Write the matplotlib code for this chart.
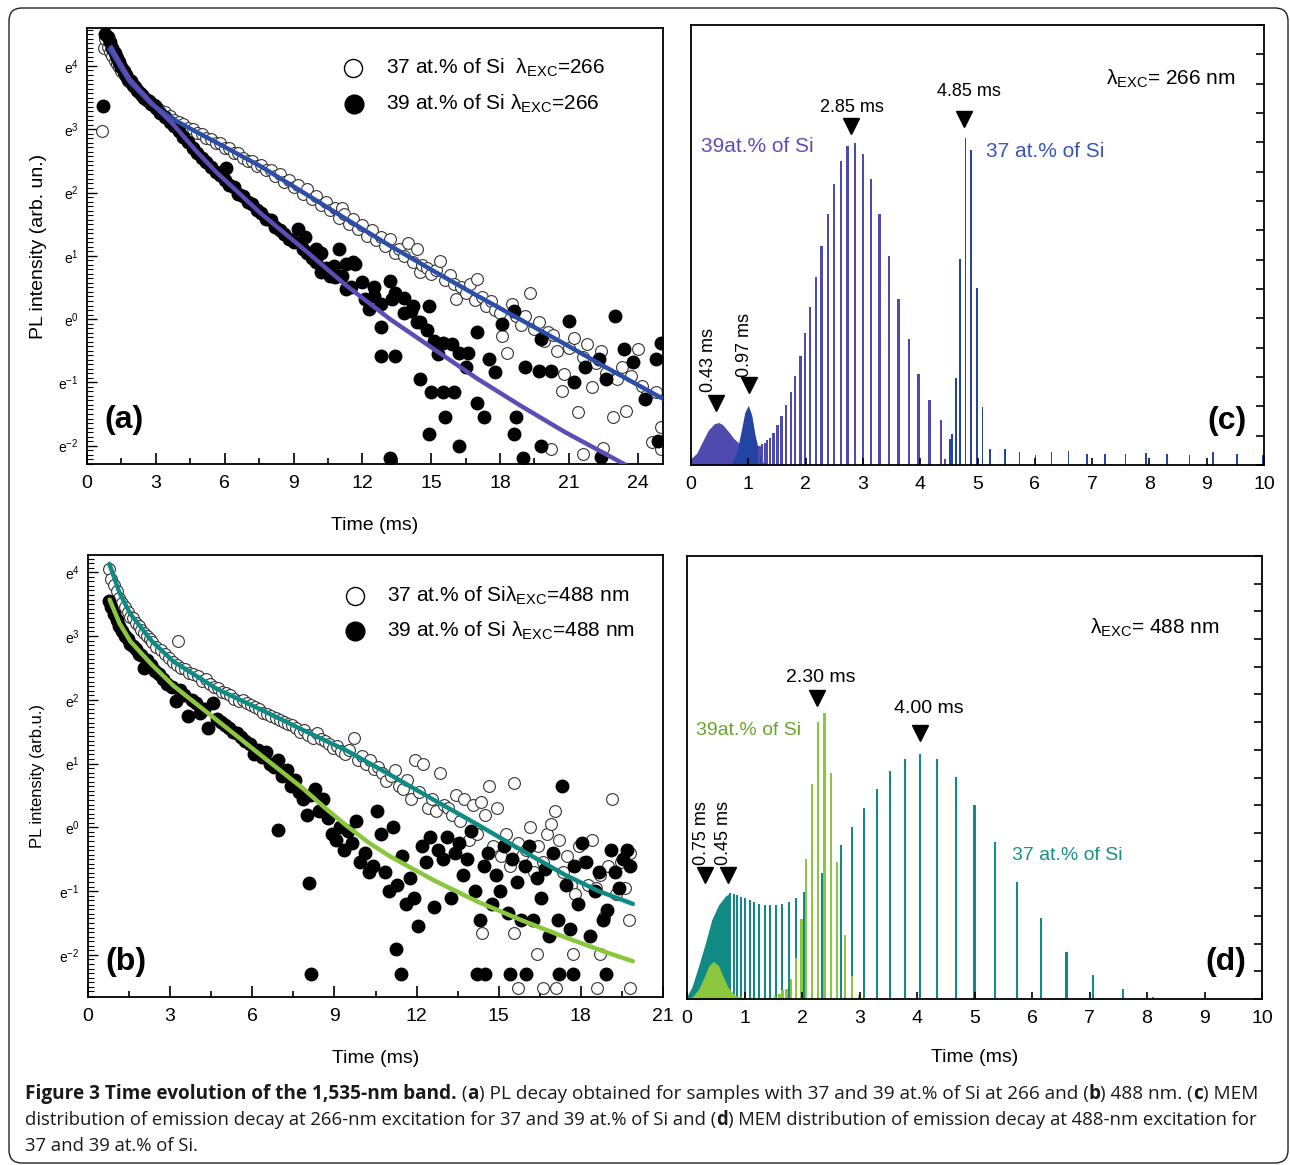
import numpy as np
import matplotlib
matplotlib.use("Agg")
import matplotlib.pyplot as plt
from matplotlib.ticker import MultipleLocator, FixedLocator, NullFormatter
from matplotlib.patches import FancyBboxPatch

plt.rcParams['font.family'] = ['Liberation Sans', 'DejaVu Sans']
plt.rcParams['mathtext.fontset'] = 'custom'
plt.rcParams['mathtext.rm'] = 'Liberation Sans'
plt.rcParams['mathtext.it'] = 'Liberation Sans:italic'

W, H = 1290, 1165

# ---------------- panel (a): PL decay, 266 nm (t in ms, ln of intensity) ----------
a37_t = [0.66, 0.72, 0.8, 0.9, 1.0, 1.1, 1.2, 1.3, 1.4, 1.5, 1.6, 1.7, 1.8, 1.9, 2.0, 2.2, 2.4,
         2.6, 2.8, 3.0, 3.2, 3.4, 3.6, 3.8, 4.0, 4.2, 4.4, 4.6, 4.8, 5.0, 5.2, 5.4, 5.6, 5.8, 6.0,
         6.2, 6.4, 6.6, 6.8, 7.0, 7.2, 7.4, 7.6, 7.8, 8.0, 8.2, 8.4, 8.6, 8.8, 9.0, 9.2, 9.4, 9.6,
         9.8, 10.0, 10.2, 10.4, 10.6, 10.8, 11.0, 11.1, 11.2, 11.4, 11.6, 11.8, 12.0, 12.2, 12.4,
         12.6, 12.8, 13.0, 13.2, 13.4, 13.6, 13.8, 14.0, 14.2, 14.4, 14.5, 14.6, 14.8, 15.0, 15.2,
         15.4, 15.6, 15.8, 16.0, 16.1, 16.3, 16.5, 16.7, 16.9, 17.0, 17.2, 17.4, 17.6, 17.8, 18.0,
         18.1, 18.3, 18.5, 18.7, 18.9, 19.1, 19.3, 19.5, 19.7, 19.9, 20.1, 20.3, 20.5, 20.7, 20.8,
         21.0, 21.2, 21.4, 21.6, 21.8, 22.0, 22.2, 22.4, 22.6, 22.9, 23.1, 23.3, 23.5, 23.7, 24.0,
         24.2, 24.4, 24.6, 24.8, 25.0, 20.2, 21.6, 22.5, 25.0]
a37_ln = [2.97, 4.29, 4.42, 4.3, 4.22, 4.15, 4.08, 4.03, 3.98, 3.92, 3.87, 3.82, 3.77, 3.73, 3.69,
          3.6, 3.53, 3.47, 3.41, 3.36, 3.3, 3.27, 3.21, 3.15, 3.12, 3.08, 3.02, 3.0, 2.94, 2.92,
          2.86, 2.85, 2.79, 2.78, 2.7, 2.7, 2.62, 2.62, 2.55, 2.5, 2.5, 2.42, 2.43, 2.35, 2.35,
          2.26, 2.3, 2.17, 2.2, 2.08, 2.12, 1.98, 2.05, 1.9, 1.95, 1.8, 1.85, 1.72, 1.76, 1.6,
          1.76, 1.66, 1.5, 1.58, 1.42, 1.48, 1.32, 1.4, 1.25, 1.3, 1.15, 1.26, 1.05, 1.1, 1.0,
          1.21, 0.9, 1.1, 0.74, 0.85, 0.8, 0.72, 0.78, 0.92, 0.62, 0.7, 0.55, 0.32, 0.5, 0.42,
          0.55, 0.3, 0.63, 0.35, 0.2, 0.28, 0.15, 0.1, -0.26, -0.53, 0.24, 0.05, -0.1, 0.05, 0.42,
          -0.15, -0.05, -0.35, -0.2, -0.25, -0.5, -1.13, -0.87, -0.45, -0.3, -1.47, -0.6, -0.4,
          -1.08, -0.7, -0.5, -0.85, -1.55, -0.95, -0.75, -1.45, -0.9, -0.47, -1.05, -1.2, -1.95,
          -1.15, -1.71, -2.05, -2.13, -2.03, -2.05]

a39_t = [0.68, 0.78, 0.9, 1.0, 1.1, 1.2, 1.3, 1.4, 1.5, 1.6, 1.7, 1.8, 1.9, 2.0, 2.1, 2.2, 2.3, 2.4,
         2.5, 2.6, 2.7, 2.8, 2.9, 3.0, 3.2, 3.4, 3.6, 3.8, 4.0, 4.2, 4.4, 4.6, 4.8, 5.0, 5.2, 5.4,
         5.6, 5.8, 6.0, 6.06, 6.2, 6.4, 6.6, 6.8, 7.0, 7.2, 7.4, 7.6, 7.8, 8.0, 8.2, 8.4, 8.6,
         8.8, 9.0, 9.2, 9.4, 9.5, 9.6, 9.8, 10.0, 10.0, 10.2, 10.2, 10.4, 10.6, 10.75, 10.8, 11.0,
         11.1, 11.3, 11.3, 11.5, 11.6, 11.7, 12.0, 12.1, 12.3, 12.5, 12.5, 12.8, 12.8, 12.8, 13.2,
         13.3, 13.4, 13.4, 13.8, 13.8, 14.1, 14.2, 14.4, 14.5, 14.5, 14.8, 14.9, 15.0, 15.1, 15.3,
         15.5, 15.5, 15.6, 15.9, 16.0, 16.2, 16.5, 16.6, 17.0, 17.0, 17.3, 17.5, 17.8, 18.1, 18.6,
         18.6, 18.7, 19.1, 19.7, 19.8, 19.8, 20.2, 21.0, 21.2, 21.7, 22.3, 22.6, 23.0, 23.4, 23.8,
         24.3, 24.8, 25.0, 24.9, 16.2, 14.9, 13.2, 19.0, 22.4]
a39_ln = [3.36, 4.5, 4.45, 4.38, 4.28, 4.2, 4.12, 4.06, 3.98, 3.92, 3.86, 3.8, 3.76, 3.7, 3.66,
          3.62, 3.58, 3.54, 3.5, 3.47, 3.44, 3.4, 3.38, 3.34, 3.26, 3.2, 3.12, 3.05, 2.97, 2.88,
          2.8, 2.7, 2.63, 2.55, 2.48, 2.4, 2.32, 2.28, 2.2, 2.39, 2.12, 2.08, 1.98, 1.95, 1.85,
          1.82, 1.72, 1.68, 1.58, 1.56, 1.46, 1.4, 1.35, 1.27, 1.22, 1.42, 1.1, 1.29, 1.05, 0.97,
          0.9, 1.1, 1.05, 0.74, 0.8, 0.68, 0.84, 0.66, 1.1, 0.68, 0.87, 0.47, 0.5, 0.9, 0.87, 0.58,
          0.32, 0.16, 0.5, 0.37, -0.13, -0.58, 0.24, 0.6, 0.32, 0.42, -0.58, 0.1, 0.34, 0.13, 0.21,
          -0.05, -0.95, -0.05, -0.18, 0.21, -1.16, -0.34, -0.55, -0.37, -1.16, -1.55, -0.39, -1.16,
          -0.53, -0.76, -0.53, -0.21, -1.32, -1.55, -0.63, -0.84, -0.08, 0.13, -1.82, -1.55, -0.76,
          -0.82, -0.32, -2.0, -0.82, -0.03, -1.0, -0.76, -0.63, -0.95, 0.05, -0.47, -0.68, -1.26,
          -0.63, -0.37, -1.92, -2.0, -1.82, -2.2, -2.2, -2.18]

# fitted decay curves
fit_a37_t = [1.0, 1.4, 1.86, 2.8, 3.75, 4.7, 5.64, 7.54, 9.43, 11.3, 13.2, 15.1, 17.0, 18.9,
             20.8, 22.7, 25.1]
fit_a37_ln = [4.26, 4.02, 3.75, 3.4, 3.16, 2.97, 2.79, 2.42, 2.0, 1.58, 1.16, 0.76, 0.37, -0.01,
              -0.39, -0.78, -1.26]
fit_a39_t = [1.06, 1.4, 1.86, 2.8, 3.75, 4.7, 5.64, 6.6, 7.54, 9.43, 11.3, 13.2, 15.1, 17.0,
             18.9, 20.8, 23.4]
fit_a39_ln = [4.29, 4.07, 3.79, 3.42, 3.08, 2.68, 2.32, 2.0, 1.68, 1.11, 0.53, 0.0, -0.47, -0.94,
              -1.37, -1.78, -2.29]

# ---------------- panel (b): PL decay, 488 nm -------------------------------------
b37_t = [0.75, 0.85, 0.95, 1.05, 1.15, 1.25, 1.35, 1.45, 1.55, 1.65, 1.75, 1.85, 1.95, 2.05, 2.15,
         2.25, 2.35, 2.5, 2.65, 2.8, 2.95, 3.1, 3.25, 3.4, 3.3, 3.55, 3.7, 3.85, 4.0, 4.15, 4.3,
         4.45, 4.6, 4.75, 4.9, 5.05, 5.2, 5.35, 5.5, 5.65, 5.8, 5.95, 6.1, 6.25, 6.4, 6.55, 6.7,
         6.85, 7.0, 7.15, 7.3, 7.45, 7.6, 7.75, 7.9, 8.05, 8.2, 8.35, 8.5, 8.65, 8.8, 8.95, 9.1,
         9.25, 9.4, 9.55, 9.7, 9.85, 10.0, 10.15, 10.3, 10.45, 10.6, 10.75, 10.9, 11.05, 11.2,
         11.35, 11.5, 11.65, 11.8, 11.95, 12.1, 12.25, 12.4, 12.55, 12.7, 12.85, 13.0, 13.15, 13.3,
         13.45, 13.6, 13.75, 13.9, 14.05, 14.2, 14.35, 14.5, 14.65, 14.8, 14.95, 15.1, 15.25, 15.4,
         15.55, 15.7, 15.85, 16.0, 16.15, 16.3, 16.45, 16.6, 16.75, 16.9, 17.05, 17.2, 17.35, 17.5,
         17.65, 17.8, 17.95, 18.1, 18.25, 18.4, 18.55, 18.7, 18.85, 19.0, 19.15, 19.3, 19.45, 19.6,
         19.75, 19.8, 14.4, 15.56, 16.4, 17.7, 18.7, 15.7, 16.6, 17.1, 18.6, 19.8]
b37_ln = [4.05, 3.9, 3.8, 3.7, 3.6, 3.52, 3.45, 3.38, 3.3, 3.28, 3.2, 3.15, 3.1, 3.05, 3.0, 2.95,
          2.9, 2.82, 2.78, 2.72, 2.65, 2.6, 2.55, 2.5, 2.92, 2.48, 2.42, 2.4, 2.38, 2.3, 2.32, 2.25,
          2.2, 2.18, 2.12, 2.1, 2.08, 2.02, 1.98, 2.0, 1.95, 1.92, 1.88, 1.85, 1.8, 1.78, 1.75, 1.72,
          1.68, 1.65, 1.62, 1.6, 1.55, 1.5, 1.52, 1.45, 1.4, 1.48, 1.38, 1.35, 1.3, 1.25, 1.28, 1.2,
          1.15, 1.22, 1.4, 1.05, 1.12, 1.0, 1.05, 0.92, 0.95, 0.85, 0.72, 0.8, 0.9, 0.65, 0.6, 0.75,
          0.45, 1.05, 0.55, 1.0, 0.3, 0.45, 0.25, 0.85, 0.35, 0.3, 0.2, 0.5, 0.1, 0.45, -0.2, 0.35,
          -0.1, 0.4, 0.2, 0.65, -0.3, 0.3, -0.45, -0.1, -0.6, 0.7, -0.25, -0.45, -0.35, 0.0, -0.7,
          -0.3, -0.55, -0.1, 0.05, 0.25, -0.2, -0.7, -0.45, -0.9, -1.05, -0.3, -0.55, -0.9, -0.2,
          -0.95, -0.75, -1.4, -0.6, 0.45, -1.05, -0.55, -0.95, -1.45, -0.4, -1.66, -1.66, -1.98,
          -1.98, -1.98, -2.52, -2.52, -2.52, -2.52, -2.52]

b39_t = [0.75, 0.85, 0.95, 1.05, 1.15, 1.25, 1.35, 1.45, 1.55, 1.65, 1.75, 1.85, 1.95, 2.05, 2.15,
         2.3, 2.45, 2.6, 2.75, 2.9, 3.05, 3.2, 3.35, 3.5, 3.65, 3.8, 3.95, 4.1, 4.25, 4.4, 4.55,
         4.7, 4.85, 5.0, 5.15, 5.3, 5.45, 5.6, 5.75, 5.9, 6.05, 6.2, 6.35, 6.5, 6.65, 6.8, 6.95,
         7.1, 7.25, 7.4, 7.55, 7.7, 7.85, 8.0, 8.15, 8.3, 8.45, 8.6, 8.75, 8.9, 9.05, 9.2, 9.35,
         9.5, 9.65, 9.8, 9.95, 10.1, 10.25, 10.4, 10.55, 10.7, 10.85, 11.0, 11.15, 11.3, 11.45,
         11.6, 11.75, 11.9, 12.05, 12.2, 12.35, 12.5, 12.65, 12.8, 12.95, 13.1, 13.25, 13.4, 13.55,
         13.7, 13.85, 14.0, 14.15, 14.3, 14.45, 14.6, 14.75, 14.9, 15.05, 15.2, 15.35, 15.5, 15.65,
         15.8, 15.95, 16.1, 16.25, 16.4, 16.55, 16.7, 16.85, 17.0, 17.15, 17.3, 17.45, 17.6, 17.75,
         17.9, 18.05, 18.2, 18.35, 18.5, 18.65, 18.8, 18.95, 19.1, 19.25, 19.4, 19.55, 19.7, 19.8,
         6.93, 8.16, 11.24, 11.44, 14.2, 14.5, 15.4, 16.0, 17.2, 17.7, 18.9, 8.07]
b39_ln = [3.55, 3.45, 3.35, 3.25, 3.15, 3.08, 3.0, 2.95, 2.88, 2.85, 2.8, 2.72, 2.7, 2.5, 2.62,
          2.55, 2.45, 2.4, 2.32, 2.25, 2.2, 1.98, 2.15, 2.08, 1.75, 2.0, 1.95, 1.8, 1.85, 1.55,
          1.95, 1.7, 1.65, 1.6, 1.55, 1.5, 1.48, 1.42, 1.35, 1.3, 1.15, 1.22, 1.1, 1.18, 1.0, 0.95,
          1.05, 0.8, 0.9, 0.65, 0.75, 0.55, 0.45, 0.2, 0.5, 0.6, 0.25, 0.45, 0.15, -0.1, -0.2, 0.0,
          -0.35, -0.05, -0.25, 0.1, -0.55, -0.4, -0.7, -0.6, 0.25, -0.1, -0.7, -1.0, 0.0, -0.9,
          -0.45, -1.2, -0.8, -1.1, -1.55, -0.3, -0.55, -0.15, -1.25, -0.35, -0.5, -0.15, -1.1, -0.4,
          -0.25, -0.75, -0.5, -0.05, -1.0, -1.45, -0.6, -0.4, -1.2, -0.75, -1.0, -0.3, -1.35, -0.5,
          -0.85, -1.45, -0.6, -0.3, -1.45, -0.8, -1.1, -0.65, -1.7, -0.4, -1.45, 0.65, -0.9, -1.6,
          -0.6, -1.2, -0.25, -0.55, -1.7, -1.0, -0.7, -1.45, -1.3, -0.35, -0.7, -0.95, -0.5, -0.35,
          -0.6, -0.04, -2.3, -1.9, -2.3, -2.3, -2.3, -2.3, -2.3, -2.3, -2.3, -2.3, -0.87]

fit_b37_t = [0.78, 1.15, 1.54, 2.33, 3.12, 4.71, 6.29, 7.88, 9.46, 11.05, 12.63, 14.2, 15.8, 17.4,
             18.65, 19.9]
fit_b37_ln = [4.13, 3.68, 3.35, 2.92, 2.6, 2.17, 1.85, 1.52, 1.2, 0.82, 0.43, 0.05, -0.35, -0.74,
              -1.0, -1.2]
fit_b39_t = [0.79, 1.15, 1.54, 2.33, 3.12, 4.71, 6.29, 7.88, 8.67, 9.46, 10.25, 11.05, 12.63,
             14.2, 15.8, 17.4, 19.0, 19.9]
fit_b39_ln = [3.57, 3.2, 2.92, 2.55, 2.22, 1.68, 1.14, 0.6, 0.3, 0.02, -0.24, -0.46, -0.83,
              -1.16, -1.45, -1.72, -1.97, -2.1]

# ---------------- panel (c): MEM distribution, 266 nm -----------------------------
c39_hump_x = [0.0, 0.1, 0.2, 0.3, 0.4, 0.48, 0.55, 0.65, 0.75, 0.85, 0.95, 1.05, 1.15, 1.25]
c39_hump_y = [0.22, 0.4, 0.8, 1.18, 1.4, 1.45, 1.38, 1.15, 0.9, 0.72, 0.58, 0.55, 0.6, 0.7]
c39_bar_x = [1.19, 1.24, 1.29, 1.33, 1.38, 1.44, 1.51, 1.58, 1.66, 1.74, 1.82, 1.91, 1.99, 2.08,
             2.18, 2.28, 2.39, 2.50, 2.62, 2.73, 2.86, 3.00, 3.14, 3.29, 3.45, 3.62, 3.80, 3.97,
             4.16, 4.36, 4.43]
c39_bar_h = [0.65, 0.70, 0.76, 0.85, 0.93, 1.10, 1.35, 1.67, 2.03, 2.48, 3.05, 3.70, 4.49, 5.37,
             6.40, 7.48, 8.57, 9.57, 10.36, 10.86, 10.98, 10.59, 9.75, 8.56, 7.12, 5.66, 4.30, 3.11,
             2.20, 1.53, 0.19]
c37_peak_x = [0.7, 0.8, 0.88, 0.94, 1.0, 1.06, 1.12, 1.2, 1.28]
c37_peak_y = [0.0, 0.45, 1.2, 1.8, 2.03, 1.7, 1.0, 0.35, 0.0]
c37_bar_x = [4.52, 4.56, 4.62, 4.69, 4.79, 4.89, 4.99, 5.09, 5.22, 5.48, 5.73, 6.01, 6.29, 6.59,
             6.91, 7.23, 7.58, 7.94, 8.31, 8.70, 9.11, 9.53, 9.98]
c37_bar_h = [0.87, 1.04, 2.97, 7.03, 11.15, 10.75, 6.04, 1.97, 0.53, 0.53, 0.44, 0.34, 0.44, 0.48,
             0.36, 0.36, 0.39, 0.40, 0.39, 0.33, 0.44, 0.36, 0.33]

# ---------------- panel (d): MEM distribution, 488 nm -----------------------------
d37_hump_x = [0.0, 0.09, 0.2, 0.32, 0.43, 0.55, 0.67, 0.74]
d37_hump_y = [0.1, 0.46, 1.18, 2.02, 2.86, 3.40, 3.72, 3.82]
d37_bar_x = [0.75, 0.81, 0.87, 0.94, 1.01, 1.09, 1.17, 1.26, 1.36, 1.45, 1.55, 1.66, 1.77, 1.90,
             2.03, 2.34, 2.67, 2.87, 3.08, 3.30, 3.53, 3.79, 4.06, 4.35, 4.67, 5.00, 5.35, 5.74,
             6.16, 6.60, 7.06, 7.58, 8.11]
d37_bar_h = [3.82, 3.80, 3.77, 3.70, 3.64, 3.58, 3.50, 3.44, 3.41, 3.40, 3.40, 3.42, 3.50, 3.66,
             3.87, 4.55, 5.57, 6.22, 6.90, 7.60, 8.24, 8.67, 8.85, 8.66, 8.02, 6.99, 5.68, 4.24,
             2.93, 1.71, 0.87, 0.35, 0.09]
d39_hump_x = [0.05, 0.1, 0.2, 0.3, 0.38, 0.46, 0.55, 0.63, 0.72, 0.85, 1.0, 1.2]
d39_hump_y = [0.02, 0.1, 0.35, 0.8, 1.2, 1.36, 1.2, 0.8, 0.4, 0.12, 0.04, 0.0]
d39_bar_x = [1.45, 1.53, 1.61, 1.66, 1.73, 1.81, 1.89, 1.99, 2.07, 2.17, 2.28, 2.39, 2.51, 2.61,
             2.75, 2.87, 3.0]
d39_bar_h = [0.04, 0.1, 0.19, 0.34, 0.37, 0.72, 1.49, 2.89, 5.05, 7.77, 10.0, 10.33, 8.18, 4.95,
             2.30, 0.82, 0.16]

BLUE_A = '#2d4ea8'
PURPLE_A = '#5a4db4'
PURPLE_C = '#4f4aad'
BLUE_C = '#2444a4'
TEAL = '#0f8a84'
GREEN = '#8cc63f'
LAM = 'λ$_{\\mathregular{EXC}}$'


def px_axes(fig, left, top, right, bottom):
    return fig.add_axes([left / W, 1 - bottom / H, (right - left) / W, (bottom - top) / H])


def style_decay(ax, xmax, xmaj, ymin, ymax):
    ax.set_xlim(0, xmax)
    ax.set_ylim(ymin, ymax)
    ax.xaxis.set_major_locator(MultipleLocator(xmaj))
    ax.xaxis.set_minor_locator(MultipleLocator(xmaj / 2))
    ax.yaxis.set_major_locator(FixedLocator([-2, -1, 0, 1, 2, 3, 4]))
    ax.yaxis.set_minor_locator(MultipleLocator(1 / 14))
    ax.set_yticklabels([r'e$^{%d}$' % k for k in [-2, -1, 0, 1, 2, 3, 4]])
    ax.tick_params(which='both', direction='in', top=False, right=False)
    ax.tick_params(axis='x', which='major', length=8, width=1.2, labelsize=14, pad=8)
    ax.tick_params(axis='x', which='minor', length=4, width=1.2)
    ax.tick_params(axis='y', which='major', length=7, width=1.0, labelsize=10, pad=6)
    ax.tick_params(axis='y', which='minor', length=4, width=0.8)
    for s in ax.spines.values():
        s.set_linewidth(1.3)


def style_mem(ax, ymax):
    ax.set_xlim(0, 10)
    ax.set_ylim(0, ymax)
    ax.xaxis.set_major_locator(MultipleLocator(1))
    ax.yaxis.set_major_locator(MultipleLocator(1))
    ax.yaxis.set_major_formatter(NullFormatter())
    ax.tick_params(axis='x', direction='in', length=5, width=1.2, labelsize=14, pad=8)
    ax.tick_params(axis='y', direction='in', length=6, width=1.2, left=False, right=True,
                   labelleft=False)
    for s in ax.spines.values():
        s.set_linewidth(1.3)


fig = plt.figure(figsize=(W / 100, H / 100), dpi=100)

# ---- (a)
ax = px_axes(fig, 87, 28, 663, 464)
ax.plot(a37_t, a37_ln, 'o', ms=8.5, mfc='white', mec='#333333', mew=0.8, zorder=2)
ax.plot(a39_t, a39_ln, 'o', ms=9, color='black', zorder=3)
ax.plot(fit_a37_t, fit_a37_ln, color=BLUE_A, lw=3.2, zorder=4)
ax.plot(fit_a39_t, fit_a39_ln, color=PURPLE_A, lw=3.2, zorder=4)
style_decay(ax, 25.1, 3, -2.29, 4.6)
ax.set_xlabel('Time (ms)', fontsize=14, labelpad=18)
ax.set_ylabel('PL intensity (arb. un.)', fontsize=14, labelpad=8)
ax.plot([0.462], [0.908], 'o', ms=13, mfc='white', mec='black', mew=1.0, transform=ax.transAxes)
ax.plot([0.463], [0.826], 'o', ms=13.5, color='black', transform=ax.transAxes)
ax.text(0.519, 0.908, '37 at.% of Si  ' + LAM + '=266', fontsize=15,
        va='center', transform=ax.transAxes)
ax.text(0.519, 0.826, '39 at.% of Si ' + LAM + '=266', fontsize=15,
        va='center', transform=ax.transAxes)
ax.text(0.03, 0.10, '(a)', fontsize=23, fontweight='bold', va='center', transform=ax.transAxes)

# ---- (b)
ax = px_axes(fig, 88, 555, 663, 997)
ax.plot(b37_t, b37_ln, 'o', ms=8.5, mfc='white', mec='#333333', mew=0.8, zorder=2)
ax.plot(b39_t, b39_ln, 'o', ms=9, color='black', zorder=3)
ax.plot(fit_b37_t, fit_b37_ln, color=TEAL, lw=3.2, zorder=4, solid_capstyle='round')
ax.plot(fit_b39_t, fit_b39_ln, color=GREEN, lw=3.2, zorder=4, solid_capstyle='round')
style_decay(ax, 21, 3, -2.66, 4.27)
ax.set_xlabel('Time (ms)', fontsize=14, labelpad=18)
ax.set_ylabel('PL intensity (arb.u.)', fontsize=12, labelpad=10)
ax.plot([0.464], [0.907], 'o', ms=13, mfc='white', mec='black', mew=1.0, transform=ax.transAxes)
ax.plot([0.465], [0.828], 'o', ms=13.5, color='black', transform=ax.transAxes)
ax.text(0.52, 0.907, '37 at.% of Si' + LAM + '=488 nm', fontsize=15,
        va='center', transform=ax.transAxes)
ax.text(0.52, 0.828, '39 at.% of Si ' + LAM + '=488 nm', fontsize=15,
        va='center', transform=ax.transAxes)
ax.text(0.03, 0.08, '(b)', fontsize=23, fontweight='bold', va='center', transform=ax.transAxes)

# ---- (c)
ax = px_axes(fig, 691, 25, 1264, 465)
ax.fill_between(c39_hump_x, c39_hump_y, color=PURPLE_C, lw=0)
ax.fill_between(c37_peak_x, c37_peak_y, color=BLUE_C, lw=0)
ax.bar(c39_bar_x, c39_bar_h, width=0.04, color=PURPLE_C)
ax.bar(c37_bar_x, c37_bar_h, width=0.028, color=BLUE_C)
style_mem(ax, 15)
tri = dict(marker='v', ms=11, color='black', ls='none')
ax.plot([0.43], [2.1], **tri)
ax.plot([1.01], [2.72], **tri)
ax.plot([2.79], [11.55], **tri)
ax.plot([4.76], [11.8], **tri)
ax.text(0.30, 2.5, '0.43 ms', rotation=90, fontsize=13, ha='center', va='bottom')
ax.text(0.94, 3.0, '0.97 ms', rotation=90, fontsize=13, ha='center', va='bottom')
ax.text(2.8, 12.2, '2.85 ms', fontsize=13, ha='center', va='center')
ax.text(4.85, 12.75, '4.85 ms', fontsize=13, ha='center', va='center')
ax.text(0.17, 10.86, '39at.% of Si', fontsize=15, color='#5a4fb5', va='center')
ax.text(5.15, 10.7, '37 at.% of Si', fontsize=15, color='#3a56b8', va='center')
ax.text(7.25, 13.15, LAM + '= 266 nm', fontsize=15, va='center')
ax.text(0.97, 0.1, '(c)', fontsize=23, fontweight='bold', ha='right', va='center',
        transform=ax.transAxes)

# ---- (d)
ax = px_axes(fig, 687, 556, 1262, 999)
ax.fill_between(d37_hump_x, d37_hump_y, color=TEAL, lw=0)
ax.bar(d37_bar_x, d37_bar_h, width=0.035, color=TEAL)
ax.fill_between(d39_hump_x, d39_hump_y, color=GREEN, lw=0)
ax.bar(d39_bar_x, d39_bar_h, width=0.04, color=GREEN)
style_mem(ax, 16)
ax.plot([0.31], [4.48], **tri)
ax.plot([0.71], [4.48], **tri)
ax.plot([2.26], [10.88], **tri)
ax.plot([4.05], [9.6], **tri)
ax.text(0.25, 4.85, '0.75 ms', rotation=90, fontsize=13, ha='center', va='bottom')
ax.text(0.64, 4.85, '0.45 ms', rotation=90, fontsize=13, ha='center', va='bottom')
ax.text(2.33, 11.6, '2.30 ms', fontsize=14, ha='center', va='center')
ax.text(4.2, 10.5, '4.00 ms', fontsize=14, ha='center', va='center')
ax.text(0.15, 9.7, '39at.% of Si', fontsize=14, color='#6aa52a', va='center')
ax.text(5.65, 5.2, '37 at.% of Si', fontsize=14, color='#1a8f8a', va='center')
ax.text(7.0, 13.4, LAM + '= 488 nm', fontsize=15, va='center')
ax.text(0.972, 0.084, '(d)', fontsize=23, fontweight='bold', ha='right', va='center',
        transform=ax.transAxes)
ax.set_xlabel('Time (ms)', fontsize=14, labelpad=16)

# ---- outer rounded frame
fig.add_artist(FancyBboxPatch((0.09, 0.02), 12.79, 11.55,
                              boxstyle='round,pad=0,rounding_size=0.13',
                              transform=fig.dpi_scale_trans, fill=False,
                              ec='#222222', lw=1.0))

# ---- caption with bold runs
caption = [
    [('Figure 3 Time evolution of the 1,535-nm band.', 'bold'), (' (', 'normal'), ('a', 'bold'),
     (') PL decay obtained for samples with 37 and 39 at.% of Si at 266 and (', 'normal'),
     ('b', 'bold'), (') 488 nm. (', 'normal'), ('c', 'bold'), (') MEM', 'normal')],
    [('distribution of emission decay at 266-nm excitation for 37 and 39 at.% of Si and (', 'normal'),
     ('d', 'bold'), (') MEM distribution of emission decay at 488-nm excitation for', 'normal')],
    [('37 and 39 at.% of Si.', 'normal')],
]
renderer = fig.canvas.get_renderer()
y_px = [1094, 1120, 1146]
sizes = [13.65, 13.35, 13.35]
for line, yp, fs in zip(caption, y_px, sizes):
    x = 25
    for s, w in line:
        t = fig.text(x / W, 1 - yp / H, s, fontsize=fs, fontweight=w, family='Open Sans',
                     va='center', ha='left', color='#1a1a1a')
        x += t.get_window_extent(renderer).width

fig.savefig('out.png', dpi=100)
